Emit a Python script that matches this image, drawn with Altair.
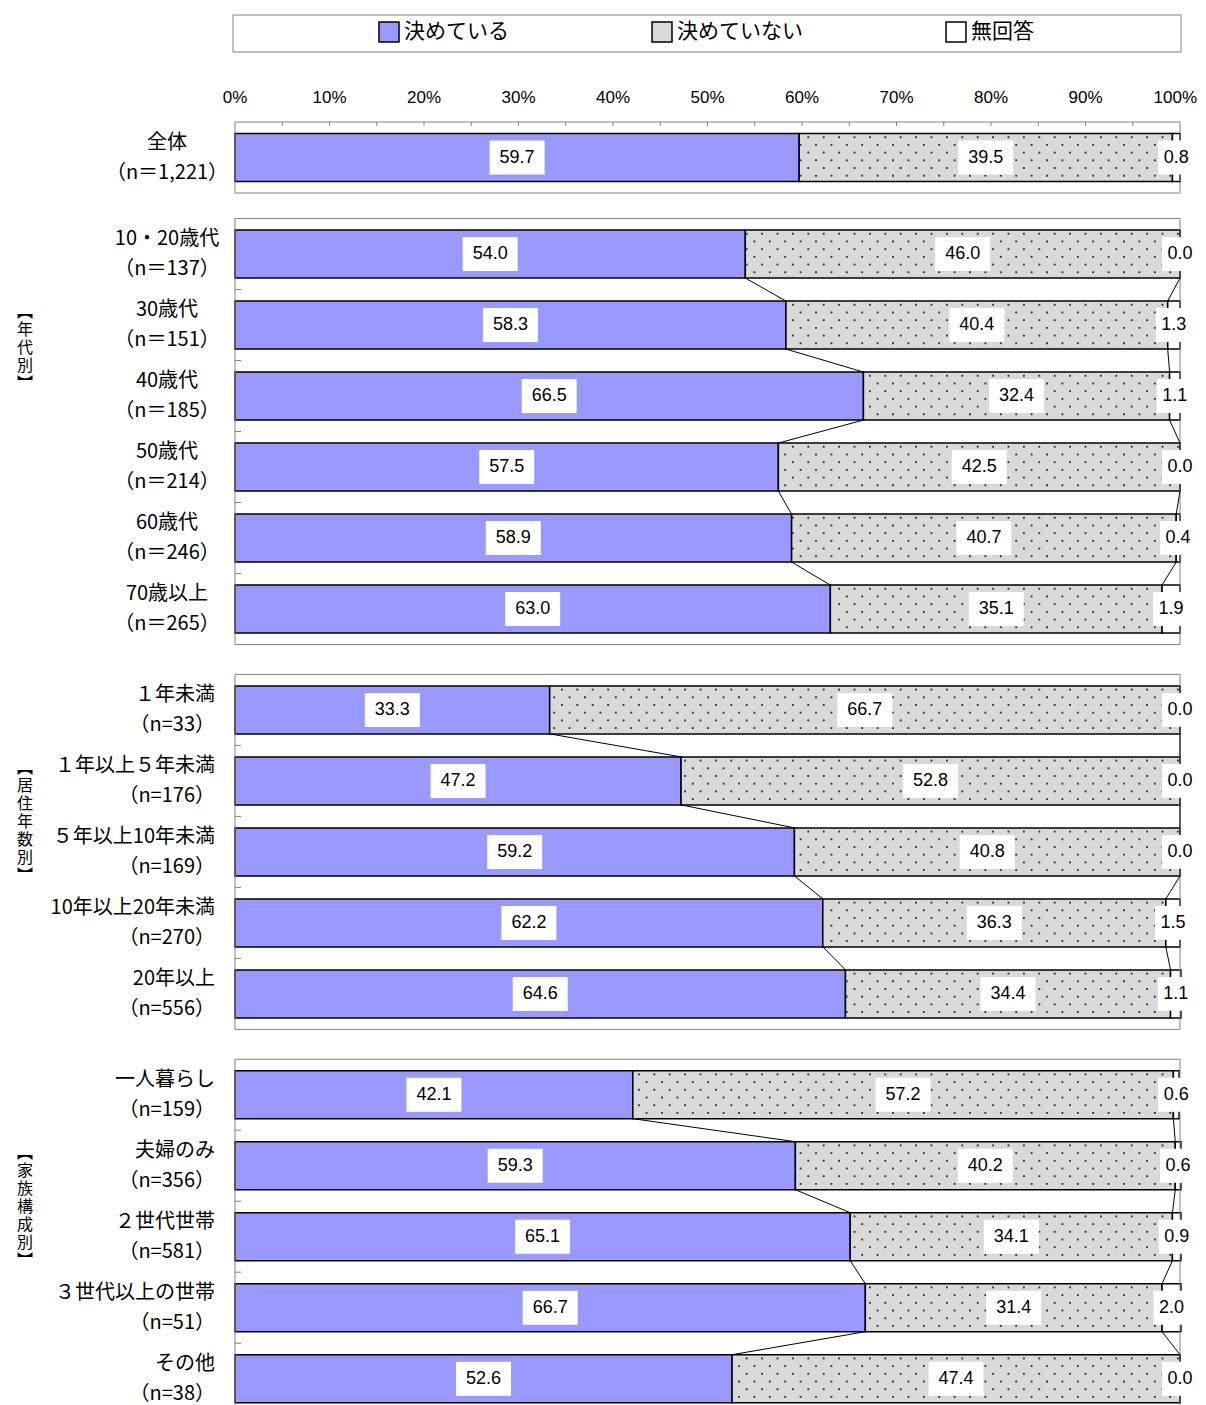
import altair as alt
import pandas as pd

# ---------------- data ----------------
series = ["決めている", "決めていない", "無回答"]
series_colors = ["#9999FF", "#D9D9D9", "#FFFFFF"]

groups = ["全体", "年代別", "居住年数別", "家族構成別"]
group_vertical = ["", "︻\n年\n代\n別\n︼", "︻\n居\n住\n年\n数\n別\n︼", "︻\n家\n族\n構\n成\n別\n︼"]

categories = ["全体", "10・20歳代", "30歳代", "40歳代", "50歳代", "60歳代", "70歳以上",
              "１年未満", "１年以上５年未満", "５年以上10年未満", "10年以上20年未満", "20年以上",
              "一人暮らし", "夫婦のみ", "２世代世帯", "３世代以上の世帯", "その他"]
n_labels = ["（n＝1,221）", "（n＝137）", "（n＝151）", "（n＝185）", "（n＝214）", "（n＝246）", "（n＝265）",
            "（n=33）", "（n=176）", "（n=169）", "（n=270）", "（n=556）",
            "（n=159）", "（n=356）", "（n=581）", "（n=51）", "（n=38）"]
group_of = ["全体"] + ["年代別"] * 6 + ["居住年数別"] * 5 + ["家族構成別"] * 5

decided = [59.7, 54.0, 58.3, 66.5, 57.5, 58.9, 63.0, 33.3, 47.2, 59.2, 62.2, 64.6, 42.1, 59.3, 65.1, 66.7, 52.6]
undecided = [39.5, 46.0, 40.4, 32.4, 42.5, 40.7, 35.1, 66.7, 52.8, 40.8, 36.3, 34.4, 57.2, 40.2, 34.1, 31.4, 47.4]
noanswer = [0.8, 0.0, 1.3, 1.1, 0.0, 0.4, 1.9, 0.0, 0.0, 0.0, 1.5, 1.1, 0.6, 0.6, 0.9, 2.0, 0.0]

x_labels = [0, 10, 20, 30, 40, 50, 60, 70, 80, 90, 100]
x_ticks = [5, 10, 15, 20, 25, 30, 35, 40, 45, 50, 55, 60, 65, 70, 75, 80, 85, 90, 95]

# ---------------- layout (row units) ----------------
ROW_PX = 71
BAR_HALF = 0.338
PANEL_GAPS = [0.36, 0.42, 0.42]
PLOT_W = 945
PLOT_H = 1283
JP = "Noto Sans CJK JP"

rows, panels = [], []
pos = 0.0
for gi, g in enumerate(groups):
    if gi > 0:
        pos += PANEL_GAPS[gi - 1]
    members = [i for i, gg in enumerate(group_of) if gg == g]
    start = pos
    for k, i in enumerate(members):
        rows.append(dict(idx=i, cat=categories[i] + "\n" + n_labels[i], group=g,
                         center=start + k + 0.5, k=k))
    pos = start + len(members)
    panels.append(dict(group=g, y0=start, y1=pos, label=group_vertical[gi], ylab=start + 1.32))
Y_END = PLOT_H / ROW_PX

seg, conn = [], []
for r in rows:
    i = r["idx"]
    s = 0.0
    for sname, v in zip(series, [decided[i], undecided[i], noanswer[i]]):
        seg.append(dict(series=sname, x0=s, x1=s + v, mid=s + v / 2,
                        ytop=r["center"] - BAR_HALF, ybot=r["center"] + BAR_HALF,
                        yc=r["center"], label=f"{v:.1f}"))
        s += v
for a, b in zip(rows[:-1], rows[1:]):
    if a["group"] != b["group"]:
        continue
    ia, ib = a["idx"], b["idx"]
    for ba, bb in [(decided[ia], decided[ib]),
                   (decided[ia] + undecided[ia], decided[ib] + undecided[ib])]:
        conn.append(dict(xa=ba, xb=bb, ya=a["center"] + BAR_HALF, yb=b["center"] - BAR_HALF))

rows_df = pd.DataFrame(rows)
seg_df = pd.DataFrame(seg)
conn_df = pd.DataFrame(conn)
panel_df = pd.DataFrame(panels)
bound_df = pd.DataFrame([dict(y=r["center"] - 0.5) for r in rows if r["k"] > 0])
tick_df = pd.DataFrame(dict(v=x_ticks))
xlab_df = pd.DataFrame(dict(v=x_labels, t=[f"{v}%" for v in x_labels]))
legend_df = pd.DataFrame(dict(a=[0]))

XS = alt.Scale(domain=[0, 100], nice=False, zero=False)
YS = alt.Scale(domain=[0, Y_END], nice=False, zero=False, reverse=True)

# ---------------- layers ----------------
bars = alt.Chart(seg_df).mark_rect(stroke="black", strokeWidth=1.5).encode(
    x=alt.X("x0:Q", scale=XS, axis=None),
    x2="x1:Q",
    y=alt.Y("ytop:Q", scale=YS, axis=None), y2="ybot:Q",
    color=alt.Color("series:N", scale=alt.Scale(domain=series, range=series_colors),
                    legend=alt.Legend(orient="none", legendX=143, legendY=-101, direction="horizontal",
                                      title=None, symbolType="square", symbolSize=400,
                                      symbolStrokeColor="black", symbolStrokeWidth=1.5,
                                      symbolOpacity=1, labelFont=JP, labelFontSize=21,
                                      labelColor="black", columnPadding=140, labelOffset=4,
                                      padding=0, labelLimit=300)),
)

frames = alt.Chart(panel_df).mark_rect(fill="transparent", stroke="#808080", strokeWidth=1).encode(
    x=alt.value(0), x2=alt.value(PLOT_W),
    y=alt.Y("y0:Q", scale=YS, axis=None), y2="y1:Q")

S = 15.4 / (PLOT_W / 100.0)
DY = 7.7 / ROW_PX
Y0 = 3.7 / ROW_PX
OFF = 3.5 / (PLOT_W / 100.0)
M = 0.12
dots = alt.Chart(seg_df).transform_filter(alt.datum.series == "決めていない").transform_calculate(
    r="sequence(0, 6)"
).transform_flatten(["r"]).transform_calculate(
    yy=f"datum.ytop + {Y0} + datum.r * {DY}",
    off=f"{OFF} + (datum.r % 2) * {S / 2}",
).transform_calculate(
    xs=f"sequence(ceil((datum.x0 + {M} - datum.off) / {S}) * {S} + datum.off, datum.x1 - {M}, {S})"
).transform_flatten(["xs"]).mark_square(size=3.5, color="#333333", opacity=1).encode(
    x=alt.X("xs:Q", scale=XS, axis=None),
    y=alt.Y("yy:Q", scale=YS, axis=None))

left_ticks = alt.Chart(bound_df).mark_rule(color="#808080", strokeWidth=1).encode(
    x=alt.value(0), x2=alt.value(6), y=alt.Y("y:Q", scale=YS, axis=None))

top_ticks = alt.Chart(tick_df).mark_rule(color="#808080", strokeWidth=1).encode(
    x=alt.X("v:Q", scale=XS, axis=None), y=alt.value(0), y2=alt.value(4))

x_text = alt.Chart(xlab_df).transform_filter(alt.datum.v < 100).mark_text(
    font="Liberation Sans", fontSize=17, color="black", align="center", baseline="middle").encode(
    x=alt.X("v:Q", scale=XS, axis=None), y=alt.value(-24), text="t:N")
x_text_end = alt.Chart(xlab_df).transform_filter(alt.datum.v >= 100).mark_text(
    font="Liberation Sans", fontSize=17, color="black", align="right", baseline="middle", dx=17).encode(
    x=alt.X("v:Q", scale=XS, axis=None), y=alt.value(-24), text="t:N")

connectors = alt.Chart(conn_df).mark_rule(color="black", strokeWidth=1).encode(
    x=alt.X("xa:Q", scale=XS, axis=None), x2="xb:Q",
    y=alt.Y("ya:Q", scale=YS, axis=None), y2="yb:Q")

box_long = alt.Chart(seg_df).transform_filter(alt.datum.series != "無回答").mark_point(
    shape="M-1,-0.618L1,-0.618L1,0.618L-1,0.618Z", size=3025, filled=True, color="white",
    opacity=1, strokeWidth=0).encode(
    x=alt.X("mid:Q", scale=XS, axis=None), y=alt.Y("yc:Q", scale=YS, axis=None))
box_short = alt.Chart(seg_df).transform_filter(alt.datum.series == "無回答").mark_point(
    shape="M-1,-0.944L1,-0.944L1,0.944L-1,0.944Z", size=1296, filled=True, color="white",
    opacity=1, strokeWidth=0).encode(
    x=alt.X("mid:Q", scale=XS, axis=None), y=alt.Y("yc:Q", scale=YS, axis=None))

values = alt.Chart(seg_df).mark_text(font="Liberation Sans", fontSize=18, color="black",
                                     align="center", baseline="middle").encode(
    x=alt.X("mid:Q", scale=XS, axis=None), y=alt.Y("yc:Q", scale=YS, axis=None), text="label:N")

cat_center = alt.Chart(rows_df).transform_filter(
    (alt.datum.group == "全体") | (alt.datum.group == "年代別")).mark_text(
    font=JP, fontSize=20, color="black", align="center", baseline="middle",
    lineBreak="\n", lineHeight=30, dy=-15).encode(
    x=alt.value(-68), y=alt.Y("center:Q", scale=YS, axis=None), text="cat:N")
cat_right = alt.Chart(rows_df).transform_filter(
    (alt.datum.group == "居住年数別") | (alt.datum.group == "家族構成別")).mark_text(
    font=JP, fontSize=20, color="black", align="right", baseline="middle",
    lineBreak="\n", lineHeight=30, dy=-15).encode(
    x=alt.value(-20), y=alt.Y("center:Q", scale=YS, axis=None), text="cat:N")

group_text = alt.Chart(panel_df).transform_filter(alt.datum.label != "").mark_text(
    font=JP, fontSize=16, color="black", align="center", baseline="middle",
    lineBreak="\n", lineHeight=18).encode(
    x=alt.value(-210), y=alt.Y("ylab:Q", scale=YS, axis=None), text="label:N")

legend_box = alt.Chart(legend_df).mark_rect(fill="transparent", stroke="#808080", strokeWidth=1).encode(
    x=alt.value(-2), x2=alt.value(946), y=alt.value(-107), y2=alt.value(-70))

chart = alt.layer(
    bars, frames, dots, left_ticks, top_ticks, x_text, x_text_end, connectors, box_long, box_short,
    values, cat_center, cat_right, group_text, legend_box
).properties(
    width=PLOT_W, height=PLOT_H,
    autosize=alt.AutoSizeParams(type="none"),
    padding={"left": 227, "top": 114, "right": 18, "bottom": 0},
).configure_view(stroke=None)

chart.save("out.html", embed_options={"renderer": "svg", "actions": False})
